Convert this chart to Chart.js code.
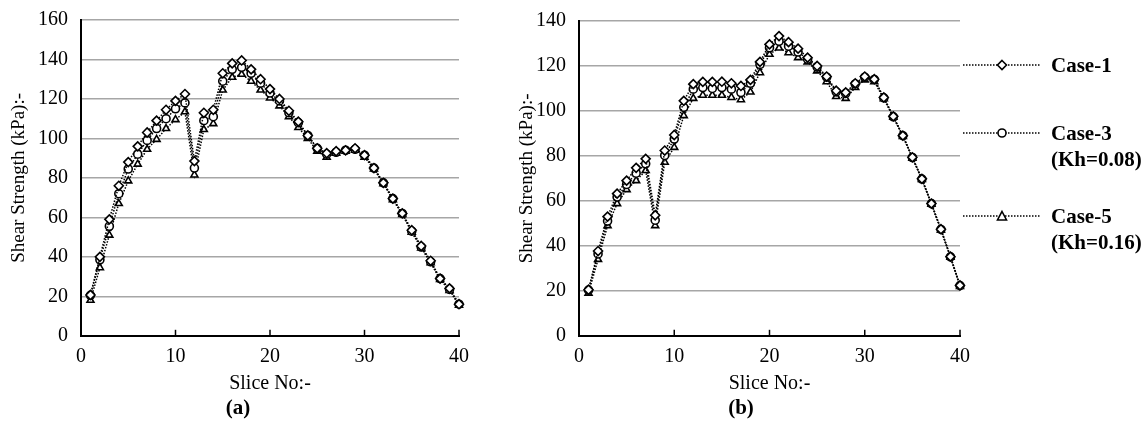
<!DOCTYPE html>
<html>
<head>
<meta charset="utf-8">
<script src="https://cdn.jsdelivr.net/npm/chart.js@4.4.0/dist/chart.umd.min.js"></script>
<style>
  body { margin: 0; background: #fff; width: 1147px; height: 425px; position: relative; overflow: hidden; font-family: "Liberation Serif", "Times New Roman", serif; }
  canvas { position: absolute; }
  #chartA { left: 0; top: -5px; }
  #chartB { left: 505px; top: -4px; }
  .sample { position: absolute; left: 963px; }
  .legtext { position: absolute; left: 1051px; font-weight: bold; font-size: 21px; line-height: 26px; color: #000; }
</style>
</head>
<body>
<canvas id="chartA" width="478" height="430"></canvas>
<canvas id="chartB" width="474" height="429"></canvas>

<svg class="sample" style="top:58px" width="78" height="14">
  <line x1="0" y1="7" x2="78" y2="7" stroke="#000" stroke-width="1.4" stroke-dasharray="1.5,1.5"/>
  <polygon points="39,2.5 43.5,7 39,11.5 34.5,7" fill="#fff" stroke="#000" stroke-width="1.6"/>
</svg>
<div class="legtext" style="top:52px">Case-1</div>

<svg class="sample" style="top:126px" width="78" height="14">
  <line x1="0" y1="7" x2="78" y2="7" stroke="#000" stroke-width="1.4" stroke-dasharray="1.5,1.5"/>
  <circle cx="39" cy="7" r="4" fill="#fff" stroke="#000" stroke-width="1.6"/>
</svg>
<div class="legtext" style="top:120px">Case-3<br>(Kh=0.08)</div>

<svg class="sample" style="top:209px" width="78" height="14">
  <line x1="0" y1="7" x2="78" y2="7" stroke="#000" stroke-width="1.4" stroke-dasharray="1.5,1.5"/>
  <polygon points="39,2.5 43.5,11 34.5,11" fill="#fff" stroke="#000" stroke-width="1.6"/>
</svg>
<div class="legtext" style="top:203px">Case-5<br>(Kh=0.16)</div>

<script>
// slice numbers 1..40
const slices = [1, 2, 3, 4, 5, 6, 7, 8, 9, 10, 11, 12, 13, 14, 15, 16, 17, 18, 19, 20,
  21, 22, 23, 24, 25, 26, 27, 28, 29, 30, 31, 32, 33, 34, 35, 36, 37, 38, 39, 40];

const seriesNames = ['Case-1', 'Case-3 (Kh=0.08)', 'Case-5 (Kh=0.16)'];
const xTicks = [0, 10, 20, 30, 40];

// panel (a)
const case1A = [20.7, 40, 59, 76, 88, 96, 103, 109, 114.5, 119, 122.5, 88.5, 113, 114.5, 133, 138, 139.5, 135, 130, 125,
  120, 114, 108.5, 101.5, 95, 92.5, 93.5, 94, 95, 91.5, 85, 77.5, 69.5, 62, 53.5, 45.5, 38, 29, 24, 16];
const case3A = [20.5, 38.5, 55.5, 72, 84.5, 92, 99, 105, 110, 115, 118, 85, 109, 111, 129, 135, 136, 133, 128, 123,
  119, 113, 108, 101.5, 95, 92, 93, 94, 94.5, 91.5, 85, 77.5, 69.5, 62, 53, 45, 37.5, 29, 23.5, 16];
const case5A = [18, 34.5, 51, 67, 78.5, 87, 94.5, 99.5, 105, 109.5, 113.5, 81.5, 104.5, 107.5, 124.5, 131, 132.5, 129, 124.5, 120.5,
  116.5, 111, 105.5, 100, 93.5, 90.5, 92.5, 93.5, 94, 90.5, 84.5, 77, 69, 61.5, 52.5, 44.5, 37, 28.5, 23, 15.5];

// panel (b)
const case1B = [20.5, 37.7, 53, 63.2, 69, 74.7, 78.7, 53.6, 82.4, 89.3, 104.5, 111.9, 112.9, 112.9, 113, 112.3, 111.1, 113.8, 121.8, 129.6,
  133.3, 130.6, 127.7, 123.7, 120, 115.3, 109, 108.2, 112.3, 115.3, 114.1, 106, 97.6, 89, 79.4, 69.8, 58.8, 47.4, 35.2, 22.4];
const case3B = [20.3, 36.4, 51, 61.7, 67.3, 72.3, 76.5, 51.4, 80.2, 87.5, 101.6, 109.7, 110.4, 110, 110.4, 109.7, 108.2, 112.3, 120.7, 128.1,
  131, 128.8, 126.2, 123, 119.5, 115, 108.5, 107.8, 112, 115, 114, 105.8, 97.4, 89, 79.3, 69.7, 58.8, 47.3, 35.1, 22.3];
const case5B = [19, 34, 49, 58.8, 65, 69, 73.5, 49, 77.2, 83.8, 97.9, 105.6, 107, 107, 107, 106, 105, 108.4, 117, 125.2,
  128, 125.9, 123.7, 121.8, 117.8, 113, 106.4, 105.6, 110.4, 113.8, 113, 105.5, 97.2, 88.7, 79, 69.5, 58.5, 47, 35, 22];

const serif = '"Liberation Serif", "Times New Roman", serif';
const markers = ['rectRot', 'circle', 'triangle'];

// small tick marks pointing up into the plot, like the original
const insideTicks = {
  id: 'insideTicks',
  beforeDatasetsDraw(chart) {
    const x = chart.scales.x, y = chart.scales.y, ctx = chart.ctx;
    ctx.save();
    ctx.strokeStyle = '#000';
    ctx.lineWidth = 1.5;
    xTicks.slice(1).forEach(v => {
      const px = x.getPixelForValue(v);
      ctx.beginPath();
      ctx.moveTo(px, y.bottom);
      ctx.lineTo(px, y.bottom - 6);
      ctx.stroke();
    });
    ctx.restore();
  }
};

function makeChart(id, seriesList, yMax, panel, yWidth, titlePad) {
  const datasets = seriesList.map((vals, i) => ({
    label: seriesNames[i],
    data: slices.map((s, k) => ({ x: s, y: vals[k] })),
    borderColor: '#000',
    borderWidth: 1.5,
    borderDash: [1.5, 1.5],
    pointStyle: markers[i],
    pointRadius: i === 0 ? 4.5 : 4,
    pointBorderWidth: 1.6,
    pointBackgroundColor: '#fff',
    pointBorderColor: '#000',
    clip: false,
    tension: 0
  }));

  return new Chart(document.getElementById(id), {
    type: 'line',
    data: { datasets },
    plugins: [insideTicks],
    options: {
      responsive: false,
      animation: false,
      layout: { padding: { left: 0, right: 2, top: 13, bottom: 0 } },
      plugins: {
        legend: { display: false },
        tooltip: { enabled: false },
        title: {
          display: true,
          position: 'bottom',
          text: panel,
          color: '#000',
          font: { family: serif, size: 21, weight: 'bold' },
          padding: { top: 0, bottom: 4 }
        }
      },
      scales: {
        x: {
          type: 'linear',
          min: 0,
          max: 40,
          afterFit: s => { s.height = 60; },
          afterBuildTicks: s => { s.ticks = xTicks.map(v => ({ value: v })); },
          grid: { display: false, drawTicks: false },
          border: { color: '#000', width: 2 },
          ticks: { color: '#000', padding: 9, font: { family: serif, size: 20 } },
          title: {
            display: true,
            text: 'Slice No:-',
            color: '#000',
            font: { family: serif, size: 20 },
            padding: { top: 0, bottom: 0 }
          }
        },
        y: {
          min: 0,
          max: yMax,
          afterFit: s => { s.width = yWidth; },
          grid: { color: '#a6a6a6', lineWidth: 1.5, drawTicks: false },
          border: { color: '#000', width: 2 },
          ticks: { stepSize: 20, color: '#000', padding: 13, font: { family: serif, size: 20 } },
          title: {
            display: true,
            text: 'Shear Strength (kPa):-',
            color: '#000',
            font: { family: serif, size: 19 },
            padding: { top: titlePad, bottom: 0 }
          }
        }
      }
    }
  });
}

makeChart('chartA', [case1A, case3A, case5A], 160, '(a)', 81, 8);
makeChart('chartB', [case1B, case3B, case5B], 140, '(b)', 74, 11);
</script>
</body>
</html>
